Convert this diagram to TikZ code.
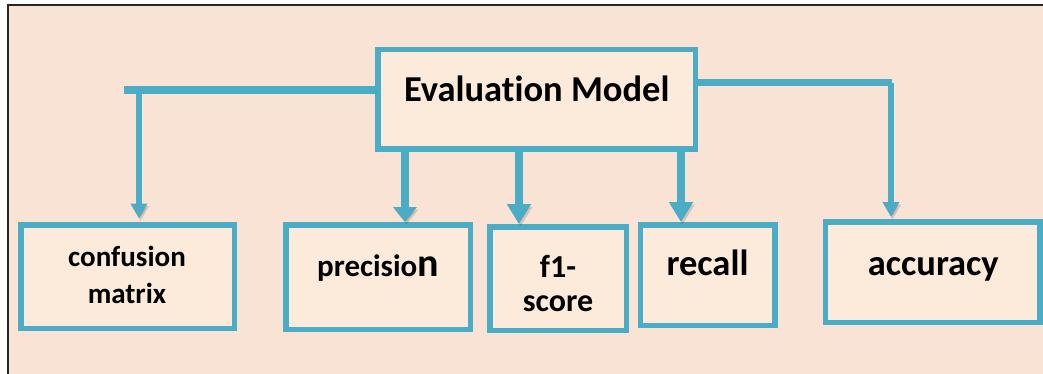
\documentclass[tikz,border=0pt]{standalone}
\usepackage{fontspec}
\setmainfont{Carlito}[Ligatures={NoCommon}]
\usetikzlibrary{arrows.meta}
\definecolor{pagebg}{HTML}{F9E3D5}
\definecolor{boxbg}{HTML}{FCEADA}
\definecolor{aqua}{HTML}{4BACC6}
\begin{document}
\begin{tikzpicture}[x=1pt,y=-1pt,
  box/.style={rectangle, draw=aqua, fill=boxbg, line width=5.5pt, inner sep=0pt},
  lbl/.style={anchor=base, inner sep=0pt, text=black, align=center},
  dropshade/.style={preaction={draw=black, draw opacity=0.14, fill opacity=0.14,
      transform canvas={shift={(1.5,2.5)}}}},
  wirethick/.style={draw=aqua, line width=8pt, dropshade},
  wirethin/.style={draw=aqua, line width=5.5pt, dropshade},
  bigtip/.style={-{Triangle[width=23pt,length=#1]}},
  smalltip/.style={-{Triangle[width=16pt,length=15pt]}},
]
\useasboundingbox (0,0) rectangle (1043,374);
% page and frame
\fill[white] (0,0) rectangle (1043,374);
\fill[pagebg] (8,5) rectangle (1043,374);
\draw[black!85, line width=1.6pt] (8,374) -- (8,5) -- (1043,5);

% boxes
\node[box, minimum width=317.5pt, minimum height=99.5pt] (em) at (536.5,99.5) {};
\node[box, minimum width=213.5pt, minimum height=103.5pt] (cm) at (127.5,276.5) {};
\node[box, minimum width=184.5pt, minimum height=104.5pt] (pr) at (378,277) {};
\node[box, minimum width=136.5pt, minimum height=103.5pt] (f1) at (558,278.5) {};
\node[box, minimum width=134.5pt, minimum height=100.5pt] (rc) at (707.75,275) {};
\node[box, minimum width=214.5pt, minimum height=100.5pt] (ac) at (932.7,272) {};

% labels (multi-line labels sit on the baseline of their last line)
\node[lbl, font=\fontsize{36.5}{44}\selectfont\bfseries] (emtext) at (536.7,102) {Evaluation Model};
\node[lbl, font=\fontsize{29}{37.5}\selectfont\bfseries] (cmtext) at (127,303.5) {confusion\\matrix};
\node[lbl, font=\bfseries] (prtext) at (378,276.7)
  {\fontsize{31}{37}\selectfont precisio\fontsize{40}{44}\selectfont n};
\node[lbl, font=\fontsize{32}{33.3}\selectfont\bfseries] (f1text) at (558,311) {f1-\\score};
\node[lbl, font=\fontsize{36.5}{44}\selectfont\bfseries] (rctext) at (707.5,275) {recall};
\node[lbl, font=\fontsize{36.5}{44}\selectfont\bfseries] (actext) at (933.3,275) {accuracy};

% bends and drop positions of the connectors
\coordinate (lend) at (123.5,90);
\coordinate (lbend) at (139,90);
\coordinate (rbend) at (891,83);
\coordinate (xp) at (405,0);
\coordinate (xf) at (519,0);
\coordinate (xr) at (681,0);

% left branch
\draw[wirethick] (em.west |- lend) -- (lend);
\draw[wirethin, smalltip, shorten >=3.5pt] (lbend) -- (lbend |- cm.north);
% right branch
\draw[wirethick, line width=7pt] (em.east |- rbend) -- ([xshift=1pt]rbend);
\draw[wirethin, smalltip, shorten >=2pt] (rbend) -- (rbend |- ac.north);
% straight drops
\draw[wirethick, bigtip=15pt] (em.south -| xp) -- (pr.north -| xp);
\draw[wirethick, bigtip=20pt] (em.south -| xf) -- (f1.north -| xf);
\draw[wirethick, bigtip=20pt] (em.south -| xr) -- (rc.north -| xr);
\end{tikzpicture}
\end{document}
